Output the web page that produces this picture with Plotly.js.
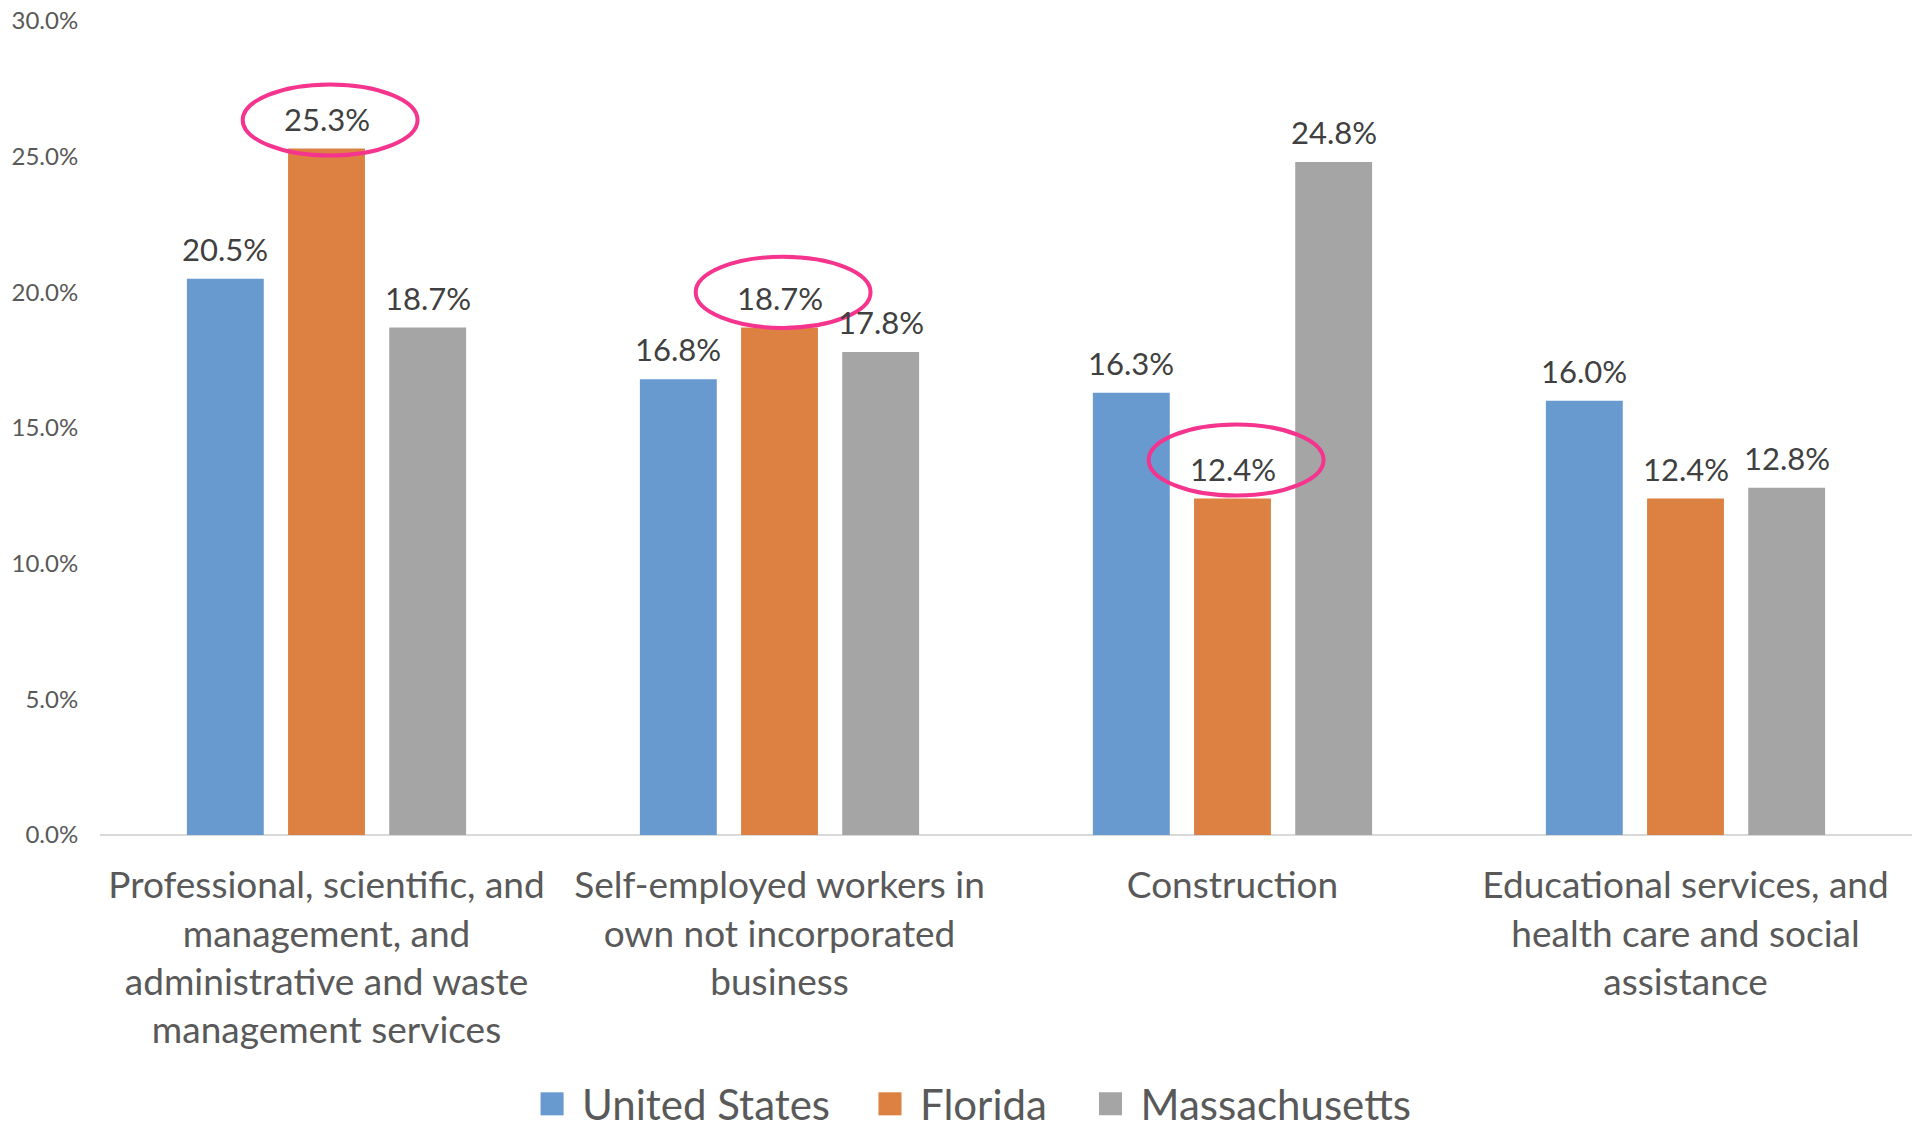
<!DOCTYPE html>
<html>
<head>
<meta charset="utf-8">
<script src="https://cdn.plot.ly/plotly-3.0.1.min.js"></script>
<style>
html,body{margin:0;padding:0;background:#fff;}
#chart{width:1916px;height:1130px;}
.legendpoints path{transform:translate(19px,0px) scale(1.92);}
</style>
</head>
<body>
<div id="chart"></div>
<script>
const categories = [
  "Professional, scientific, and<br>management, and<br>administrative and waste<br>management services",
  "Self-employed workers in<br>own not incorporated<br>business",
  "Construction",
  "Educational services, and<br>health care and social<br>assistance"
];
const seriesNames = ["United States", "Florida", "Massachusetts"];
const unitedStates = [0.205, 0.168, 0.163, 0.160];
const florida = [0.253, 0.187, 0.124, 0.124];
const massachusetts = [0.187, 0.178, 0.248, 0.128];
const yTickValues = [0, 0.05, 0.10, 0.15, 0.20, 0.25, 0.30];
// highlighted (circled) Florida labels: category indices
const highlightedFlorida = [0, 1, 2];

const colors = ["#6899CF", "#DD8142", "#A5A5A5"];
const allSeries = [unitedStates, florida, massachusetts];
const fontFam = "Lato, 'Open Sans', sans-serif";

const W = 1916, H = 1130;
const margin = {l: 100, r: 4, t: 21, b: 295, autoexpand: false};
const bargap = 0.33;
const catWidthPx = (W - margin.l - margin.r) / categories.length;
const slotPx = (1 - bargap) * catWidthPx / allSeries.length;

const legendIds = ["legend", "legend2", "legend3"];
const legendX = [0.2390, 0.4255, 0.5472];

const traces = allSeries.map((vals, i) => ({
  type: "bar",
  name: seriesNames[i],
  legend: legendIds[i],
  x: categories,
  y: vals,
  marker: {color: colors[i]},
  hoverinfo: "skip"
}));

// value labels above bars
const annotations = [];
allSeries.forEach((vals, si) => {
  vals.forEach((v, ci) => {
    annotations.push({
      xref: "x", yref: "y",
      x: categories[ci], y: v,
      text: (v * 100).toFixed(1) + "%",
      showarrow: false,
      xanchor: "center", yanchor: "middle",
      xshift: (si - 1) * slotPx,
      yshift: 30,
      font: {family: fontFam, size: 31, color: "#404040"}
    });
  });
});

// hand-drawn highlight ellipses around the circled Florida labels
const ellipseLift = [-0.0025, 0, 0.0012];
const shapes = highlightedFlorida.map((ci, k) => ({
  type: "circle",
  xref: "x", yref: "y",
  x0: ci + 0.008 - 0.193, x1: ci + 0.008 + 0.193,
  y0: florida[ci] + ellipseLift[k] - 0.0001, y1: florida[ci] + ellipseLift[k] + 0.0261,
  line: {color: "#F5348E", width: 4},
  fillcolor: "rgba(0,0,0,0)"
}));

const layout = {
  width: W, height: H,
  margin: margin,
  paper_bgcolor: "#fff", plot_bgcolor: "#fff",
  font: {family: fontFam, color: "#595959"},
  barmode: "group",
  bargap: bargap,
  bargroupgap: 0.24,
  showlegend: true,
  xaxis: {
    type: "category",
    showgrid: false, showline: false, zeroline: false,
    ticks: "outside", ticklen: 18, tickcolor: "rgba(0,0,0,0)",
    tickfont: {family: fontFam, size: 37, color: "#595959"}
  },
  yaxis: {
    range: [0, 0.30],
    tickvals: yTickValues,
    tickformat: ".1%",
    showgrid: false, showline: false,
    zeroline: true, zerolinecolor: "#D9D9D9", zerolinewidth: 2,
    ticks: "outside", ticklen: 16, tickcolor: "rgba(0,0,0,0)",
    tickfont: {family: fontFam, size: 24, color: "#595959"}
  },
  shapes: shapes,
  annotations: annotations
};
legendIds.forEach((id, i) => {
  layout[id] = {
    orientation: "h",
    x: legendX[i], xanchor: "left",
    y: -0.3305, yanchor: "middle",
    itemwidth: 39,
    font: {family: fontFam, size: 42, color: "#595959"},
    bgcolor: "rgba(0,0,0,0)",
    itemclick: false, itemdoubleclick: false
  };
});

Plotly.newPlot("chart", traces, layout, {displayModeBar: false, staticPlot: true});
</script>
</body>
</html>
